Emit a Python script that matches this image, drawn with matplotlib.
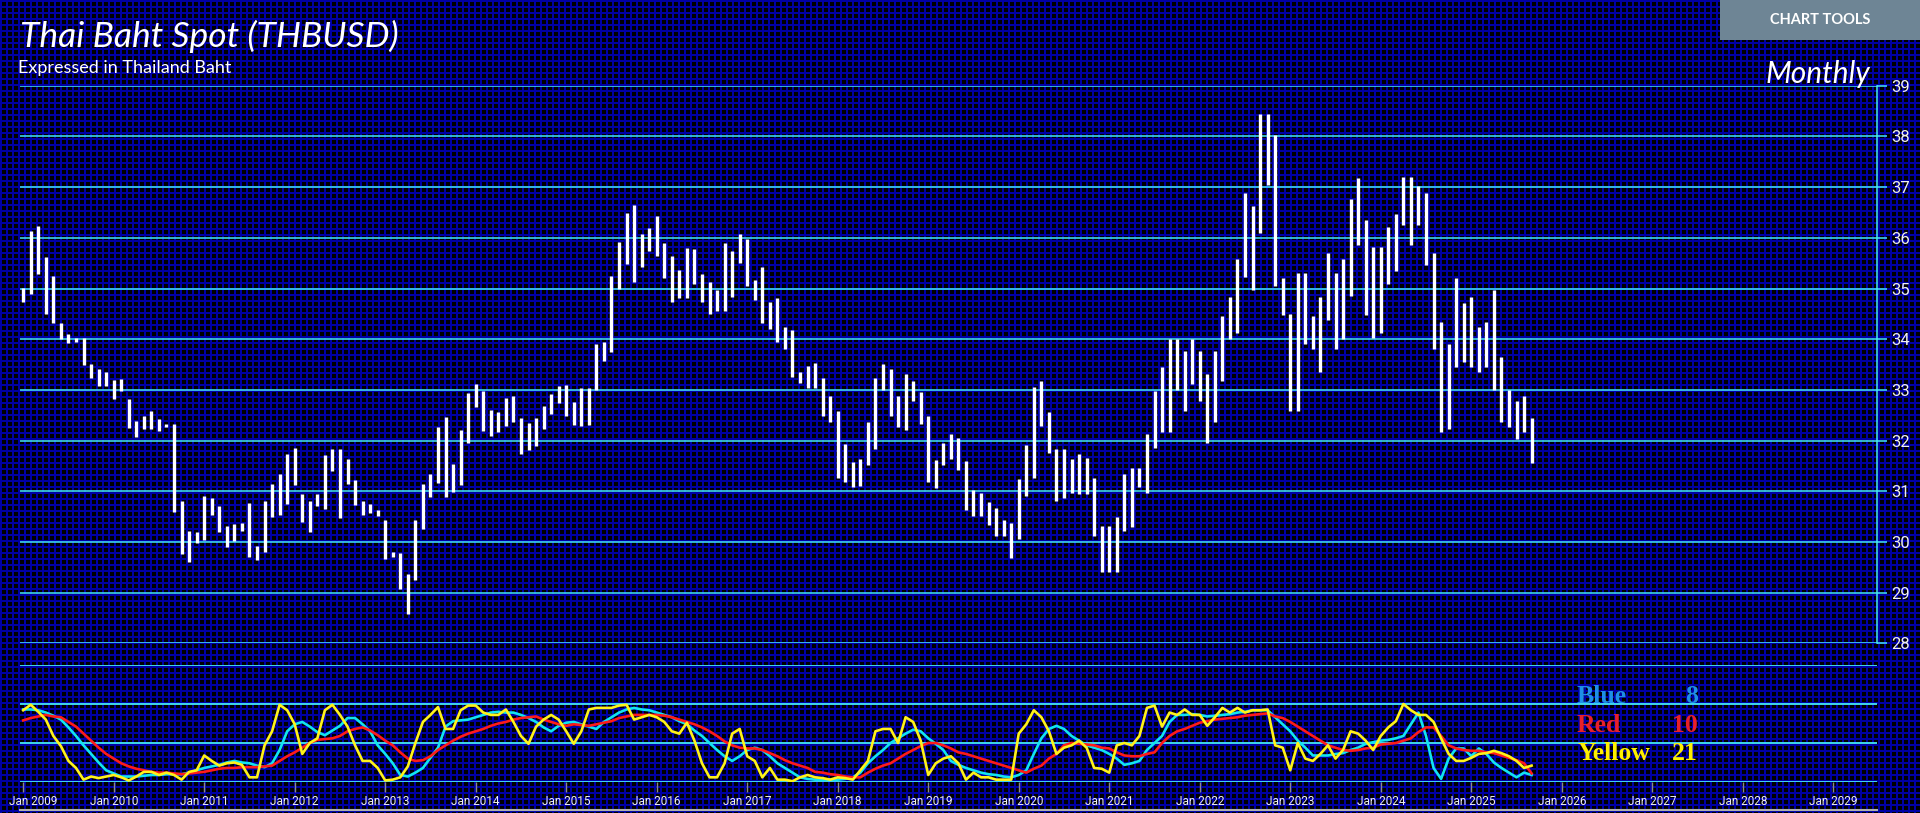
import numpy as np
import matplotlib
matplotlib.use('Agg')
import matplotlib.pyplot as plt
from matplotlib.patches import Rectangle
from matplotlib.lines import Line2D
from matplotlib.transforms import ScaledTranslation

# ---------------- data (monthly, Jan 2009 .. Sep 2025) ----------------
high = [35.01,36.13,36.23,35.62,35.25,34.31,34.10,34.03,34.03,33.52,33.42,33.36,
        33.19,33.21,32.83,32.39,32.49,32.58,32.42,32.32,32.32,30.80,30.22,30.20,
        30.91,30.87,30.71,30.31,30.35,30.37,30.76,29.93,30.81,31.15,31.35,31.73,
        31.85,30.95,30.80,30.95,31.71,31.84,31.84,31.63,31.22,30.81,30.75,30.64,
        30.44,29.81,29.79,29.36,30.44,31.15,31.35,32.27,32.47,31.53,32.21,32.94,
        33.12,32.98,32.60,32.56,32.85,32.88,32.45,32.34,32.45,32.69,32.91,33.07,
        33.09,32.76,33.03,33.03,33.91,33.94,35.25,35.91,36.49,36.65,36.07,36.20,
        36.43,35.89,35.65,35.37,35.80,35.78,35.29,35.12,34.97,35.89,35.73,36.07,
        35.98,35.16,35.43,34.73,34.82,34.25,34.19,33.36,33.48,33.54,33.24,32.88,
        32.58,31.94,31.58,31.64,32.36,33.23,33.52,33.41,32.88,33.32,33.17,32.96,
        32.48,31.62,31.96,32.14,32.05,31.60,31.02,30.96,30.79,30.68,30.44,30.38,
        31.24,31.91,33.05,33.18,32.56,31.84,31.84,31.63,31.74,31.65,31.26,30.32,
        30.32,30.50,31.35,31.45,31.45,32.14,32.97,33.45,34.01,34.01,33.77,34.01,
        33.77,33.32,33.77,34.46,34.84,35.58,36.89,36.62,38.45,38.45,38.03,35.20,
        34.49,35.31,35.31,34.46,34.84,35.71,35.31,35.58,36.76,37.17,36.35,35.82,
        35.82,36.22,36.47,37.19,37.19,37.02,36.89,35.71,34.34,33.90,35.20,34.71,
        34.84,34.25,34.34,34.97,33.65,32.99,32.78,32.88,32.45]

low = [34.73,34.89,35.29,34.50,34.31,34.00,33.92,33.94,33.50,33.24,33.07,33.07,
       32.82,32.98,32.24,32.07,32.22,32.22,32.18,32.27,30.59,29.77,29.61,29.99,
       30.04,30.53,30.20,29.91,30.02,30.21,29.70,29.64,29.81,30.50,30.53,30.75,
       31.12,30.39,30.20,30.71,30.66,31.40,30.48,31.15,30.73,30.53,30.57,30.51,
       29.67,29.70,29.08,28.58,29.25,30.26,30.88,31.17,30.89,30.98,31.13,31.96,
       32.67,32.18,32.09,32.16,32.29,32.36,31.73,31.82,31.89,32.22,32.52,32.74,
       32.48,32.30,32.29,32.31,32.99,33.57,33.75,35.00,35.49,35.13,35.42,35.73,
       35.64,35.20,34.73,34.82,34.82,35.09,34.73,34.49,34.55,34.55,34.84,35.51,
       35.04,34.77,34.31,34.21,33.94,33.81,33.25,33.13,33.03,33.03,32.49,32.36,
       31.27,31.18,31.08,31.11,31.51,31.84,32.99,32.49,32.27,32.21,32.78,32.32,
       31.18,31.06,31.51,31.64,31.42,30.63,30.51,30.51,30.33,30.12,30.11,29.68,
       30.06,30.90,31.26,32.29,31.76,30.80,30.86,30.97,30.95,30.95,30.12,29.41,
       29.41,29.41,30.21,30.30,31.08,30.97,31.85,32.16,32.16,32.99,32.58,33.12,
       32.78,31.96,32.36,33.18,34.01,34.13,35.22,34.98,36.10,37.05,35.04,34.48,
       32.58,32.58,33.91,33.80,33.35,34.37,33.80,34.00,34.86,35.85,34.48,34.03,
       34.13,35.09,35.34,36.25,35.85,36.25,35.47,33.80,32.16,32.23,33.46,33.55,
       33.45,33.35,33.45,32.99,32.37,32.26,32.04,32.16,31.56]

osc_blue8 = [93,93,92,89,85,80,70,59,47,36,25,15,
             11,7,7,7,8,9,9,10,10,10,12,15,
             18,20,22,25,27,25,24,21,19,24,41,65,
             74,77,71,64,60,66,72,82,82,74,65,47,
             36,24,9,7,12,18,31,44,71,78,79,80,
             83,86,89,90,89,89,86,82,77,70,65,72,
             76,77,74,71,68,77,83,89,93,95,93,92,
             89,86,83,78,74,66,59,50,41,33,27,33,
             41,44,41,33,24,18,12,6,4,3,3,3,
             3,4,6,12,24,33,41,50,56,62,67,65,
             56,49,41,27,22,18,15,12,10,9,7,6,
             9,15,36,56,68,72,68,59,53,47,44,41,
             36,30,22,24,27,41,50,59,77,86,86,87,
             86,84,85,86,87,89,90,92,92,92,83,74,
             65,53,44,34,34,34,36,37,41,44,49,51,
             53,54,56,59,74,89,59,18,4,30,43,43,
             33,43,36,25,18,12,6,12,9]

osc_red10 = [79,82,84,86,84,83,77,71,62,53,44,36,
             30,24,20,17,15,13,12,12,11,10,11,12,
             13,15,17,18,18,19,19,19,20,21,27,33,
             38,44,50,54,55,56,59,65,68,70,66,60,
             53,47,38,30,27,28,33,41,47,53,58,62,
             65,68,72,75,77,80,82,83,84,80,77,74,
             72,74,73,72,74,76,78,82,84,86,86,86,
             86,85,83,80,77,74,70,65,59,52,47,44,
             43,43,41,37,33,28,24,21,18,13,12,10,
             9,7,6,6,12,17,21,24,30,36,41,46,
             50,50,47,43,38,36,33,30,27,24,21,18,
             15,12,17,21,30,36,47,50,49,48,47,44,
             43,38,34,33,33,36,38,50,59,65,68,72,
             76,78,80,81,82,83,85,86,87,88,84,82,
             77,71,65,59,53,47,44,41,40,41,43,44,
             48,49,50,53,56,64,70,70,59,47,43,41,
             40,40,38,37,34,31,28,24,11]

osc_yellow21 = [92,99,90,80,59,46,27,18,3,7,5,7,
                9,6,2,7,13,13,9,12,9,3,13,15,
                34,27,21,24,25,22,6,6,47,65,99,92,
                74,36,50,56,92,99,86,71,47,27,27,18,
                2,3,6,20,50,77,86,96,68,68,92,98,
                98,89,86,86,93,77,59,49,71,80,86,80,
                65,49,65,93,95,95,95,98,99,80,83,86,
                83,77,65,62,76,53,24,6,6,24,62,68,
                33,27,6,18,3,3,1,6,9,6,5,3,
                6,5,3,15,27,65,68,68,50,83,77,53,
                9,24,30,33,24,3,12,6,6,3,3,3,
                62,74,92,83,65,36,44,47,53,44,18,17,
                12,47,50,47,59,95,98,71,89,86,93,86,
                86,72,83,95,89,95,89,92,92,93,47,44,
                15,50,30,27,36,47,30,41,65,62,53,41,
                59,70,78,100,92,86,86,77,56,36,27,27,
                31,36,37,40,37,33,27,18,21]

price_ticks = list(range(28, 40))
osc_levels = [0, 50, 100, 150]
tick_years = list(range(2009, 2030))
tick_labels = ['Jan %d' % y for y in tick_years]

legend_names = ['Blue', 'Red', 'Yellow']
legend_periods = ['8', '10', '21']

# ---------------- layout helpers ----------------
W, H = 1920, 813
fig = plt.figure(figsize=(W / 100, H / 100), dpi=100)
fig.patch.set_facecolor('black')

def fx(px):
    return px / W

def fy(py):
    return 1 - py / H

# background: blue grid mesh on black
yy, xx = np.mgrid[0:H, 0:W]
bg = np.zeros((H, W, 3))
mask = (xx % 6 < 2) | (yy % 6 < 2)
bg[mask] = (0.0, 0.0, 0.64)
fig.figimage(bg, 0, 0, zorder=-10)

CY = '#45e8f8'
months = np.arange(len(high))
tick_pos = [(y - 2009) * 12 for y in tick_years]

X_L, X_R = 20, 1877
PX0, PXM = 23.2, 7.542           # pixel of Jan 2009, pixels per month
xlim = ((X_L - PX0) / PXM, (X_R - PX0) / PXM)

# ---------------- main price panel ----------------
ax = fig.add_axes([fx(X_L), fy(643.4), fx(X_R) - fx(X_L), fy(85.7) - fy(643.4)])
ax.set_facecolor('none')
ax.set_xlim(*xlim)
ax.set_ylim(28, 39)
for v in price_ticks:
    ax.axhline(v, color=CY, lw=1.1, zorder=1)
ax.vlines(months, low, high, color='white', lw=2.4, zorder=3)
for s in ['left', 'top', 'bottom']:
    ax.spines[s].set_visible(False)
ax.spines['right'].set_color(CY)
ax.spines['right'].set_linewidth(1.1)
ax.yaxis.tick_right()
ax.set_yticks(price_ticks)
ax.set_yticklabels([str(v) for v in price_ticks])
ax.tick_params(axis='y', length=7.2, width=1.1, color=CY, labelcolor='#f0f0f0',
               labelsize=12, pad=3)
for t in ax.get_yticklabels():
    t.set_fontfamily('Roboto')
ax.set_xticks([])

# ---------------- oscillator panel ----------------
ax2 = fig.add_axes([fx(X_L), fy(782), fx(X_R) - fx(X_L), fy(665) - fy(782)])
ax2.set_facecolor('none')
ax2.set_xlim(*xlim)
ax2.set_ylim(0, 150)
for v in osc_levels:
    ax2.axhline(v, color=CY, lw=1.3, zorder=1)
ax2.plot(months, osc_blue8, color='#12e4f0', lw=1.9, zorder=3)
ax2.plot(months, osc_red10, color='#ff1a1a', lw=1.9, zorder=4)
ax2.plot(months, osc_yellow21, color='#fff21a', lw=1.9, zorder=5)
for s in ax2.spines.values():
    s.set_visible(False)
ax2.set_yticks([])
ax2.set_xticks(tick_pos)
ax2.set_xticklabels(tick_labels)
ax2.tick_params(axis='x', length=7.2, width=1, color='#8a8a8a', labelcolor='#eeeeee',
                labelsize=8.5, pad=2)
xlabels = ax2.get_xticklabels()
for t in xlabels:
    t.set_fontfamily('Roboto')
# first label is nudged inside the panel, as in the original
xlabels[0].set_transform(xlabels[0].get_transform() +
                         ScaledTranslation(0.10, 0, fig.dpi_scale_trans))

# bottom scroll line
fig.add_artist(Line2D([fx(20), fx(1877)], [fy(810), fy(810)], color='#b0b0b0', lw=1.5))

# legend text
leg_colors = ['#1e8fe6', '#e8202a', '#fff000']
leg_base = [703, 732, 760]
for name, per, c, yb in zip(legend_names, legend_periods, leg_colors, leg_base):
    fig.text(fx(1577), fy(yb), name, color=c, fontsize=18.5, fontweight='bold',
             family='Liberation Serif', va='baseline', ha='left')
    fig.text(fx(1698), fy(yb), per, color=c, fontsize=18.5, fontweight='bold',
             family='Liberation Serif', va='baseline', ha='right')

# ---------------- titles ----------------
fig.text(fx(20), fy(47), 'Thai Baht Spot (THBUSD)', color='white', fontsize=25.5,
         style='italic', family='Lato', va='baseline', ha='left')
fig.text(fx(18), fy(73), 'Expressed in Thailand Baht', color='white', fontsize=13,
         family='Lato', va='baseline', ha='left')
fig.text(fx(1870), fy(83), 'Monthly', color='white', fontsize=21.5,
         style='italic', family='Lato', va='baseline', ha='right')

# chart tools button
fig.add_artist(Rectangle((fx(1720), fy(40)), fx(1920) - fx(1720), fy(0) - fy(40),
                         transform=fig.transFigure, facecolor='#6e8595', edgecolor='none'))
fig.text(fx(1820), fy(20), 'CHART TOOLS', color='white', fontsize=10.5, fontweight='bold',
         family='Lato', va='center', ha='center')

fig.savefig('out.png', dpi=100, facecolor=fig.get_facecolor())
